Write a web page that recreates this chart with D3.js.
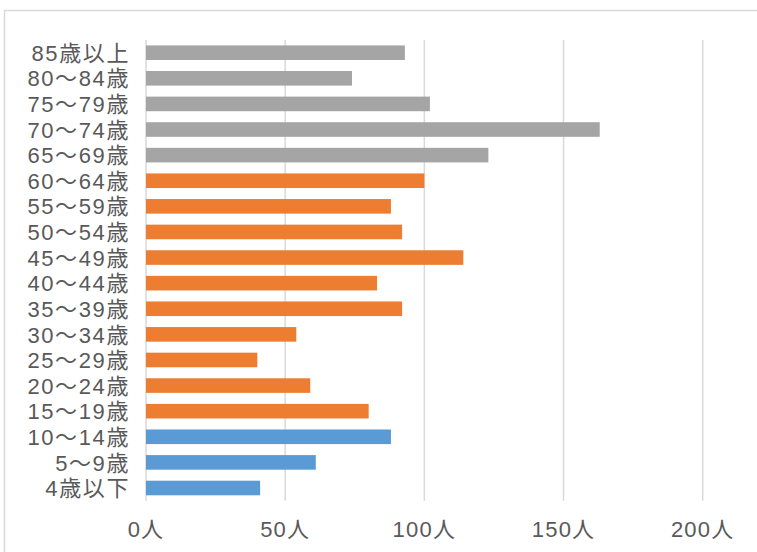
<!DOCTYPE html>
<html>
<head>
<meta charset="utf-8">
<script src="https://cdn.jsdelivr.net/npm/d3@7"></script>
<style>
  html, body { margin: 0; padding: 0; background: #fff; }
  svg { display: block; }
</style>
</head>
<body>
<svg id="chart" width="757" height="552"></svg>
<script>
// age groups, top to bottom as drawn
const ageGroups = [
  "85歳以上", "80～84歳", "75～79歳", "70～74歳", "65～69歳",
  "60～64歳", "55～59歳", "50～54歳", "45～49歳", "40～44歳",
  "35～39歳", "30～34歳", "25～29歳", "20～24歳", "15～19歳",
  "10～14歳", "5～9歳", "4歳以下"
];
const people = [93, 74, 102, 163, 123, 100, 88, 92, 114, 83, 92, 54, 40, 59, 80, 88, 61, 41];
// colour band per row: elderly / working age / children
const groupType = ["old", "old", "old", "old", "old",
  "work", "work", "work", "work", "work", "work", "work", "work", "work", "work",
  "young", "young", "young"];
const xTicks = [0, 50, 100, 150, 200];

const colors = { old: "#A5A5A5", work: "#ED7D31", young: "#5B9BD5" };
// latin font first keeps the text box short enough for the tight rows
const font = "'Liberation Sans', 'Noto Sans CJK JP', sans-serif";

const svg = d3.select("#chart");

// chart area frame (light border, runs off the right/bottom edge)
svg.append("rect")
  .attr("x", 4.5).attr("y", 10.5)
  .attr("width", 800).attr("height", 600)
  .attr("fill", "none")
  .attr("stroke", "#D9D9D9")
  .attr("stroke-width", 1.5);

const x = d3.scaleLinear().domain([0, 200]).range([146, 702.7]);
const y = d3.scaleBand().domain(ageGroups).range([39.9, 500.8]).paddingInner(0.43).paddingOuter(0.215);

// gridlines
svg.append("g")
  .selectAll("line")
  .data(xTicks)
  .enter().append("line")
  .attr("x1", d => x(d)).attr("x2", d => x(d))
  .attr("y1", 39.9).attr("y2", 500.8)
  .attr("stroke", "#D9D9D9")
  .attr("stroke-width", 1.5);

// bars
svg.append("g")
  .selectAll("rect")
  .data(ageGroups)
  .enter().append("rect")
  .attr("x", x(0))
  .attr("y", d => y(d))
  .attr("width", (d, i) => x(people[i]) - x(0))
  .attr("height", y.bandwidth())
  .attr("fill", (d, i) => colors[groupType[i]]);

// category labels
svg.append("g")
  .selectAll("text")
  .data(ageGroups)
  .enter().append("text")
  .attr("x", 130)
  .attr("y", d => y(d) + y.bandwidth() / 2)
  .attr("dy", "0.37em")
  .attr("text-anchor", "end")
  .attr("font-family", font)
  .attr("font-size", "22px")
  .attr("letter-spacing", "1.6px")
  .attr("fill", "#595959")
  .text(d => d);

// x tick labels
svg.append("g")
  .selectAll("text")
  .data(xTicks)
  .enter().append("text")
  .attr("x", d => x(d))
  .attr("y", 537)
  .attr("text-anchor", "middle")
  .attr("font-family", font)
  .attr("font-size", "22px")
  .attr("letter-spacing", "1.2px")
  .attr("fill", "#595959")
  .text(d => d + "人");
</script>
</body>
</html>
